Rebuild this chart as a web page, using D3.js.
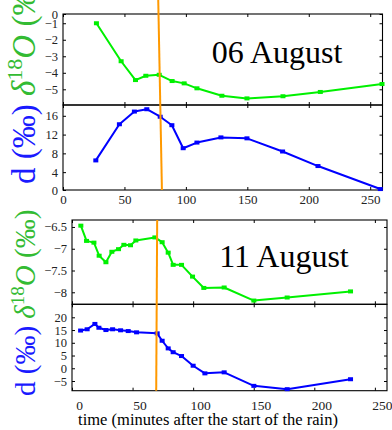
<!DOCTYPE html>
<html>
<head>
<meta charset="utf-8">
<script src="https://cdn.jsdelivr.net/npm/d3@7"></script>
<style>
  body { margin: 0; background: #fff; }
  svg { display: block; }
  .axis path { display: none; }
  .axis line { stroke: #000; stroke-width: 1; }
  .axis text { font-family: "Liberation Serif", "DejaVu Serif", serif; fill: #222; }
</style>
</head>
<body>
<div id="chart"></div>
<script>
// 06 August
const aug06IsoT = [27.2, 47.3, 59, 67.4, 78.3, 88.8, 98.6, 109, 129.3, 149.7, 179, 209.4, 259.6];
const aug06Iso = [-1.0, -3.3, -4.44, -4.18, -4.12, -4.5, -4.64, -4.94, -5.39, -5.55, -5.42, -5.16, -4.68];
const aug06DT = [26.7, 45.9, 58.1, 68.2, 79.1, 88.6, 97.8, 109, 128.5, 149.7, 178.7, 207.5, 258.2];
const aug06D = [6.5, 14.2, 16.9, 17.4, 15.8, 14.0, 9.1, 10.3, 11.4, 11.2, 8.4, 5.3, 0.4];
const aug06Rain = [77.5, 80.5]; // end of rain line, top -> bottom

// 11 August
const aug11IsoT = [7.3, 12, 18.1, 22.4, 28, 32.9, 38.4, 42.8, 48.3, 52.7, 68.4, 74.4, 79.4, 83.5, 90.4, 99.5, 108.8, 125.6, 150.1, 177.6, 229.9];
const aug11Iso = [-6.47, -6.82, -6.86, -7.16, -7.31, -7.07, -7.01, -6.91, -6.92, -6.81, -6.74, -6.85, -7.09, -7.37, -7.37, -7.64, -7.9, -7.89, -8.19, -8.12, -7.98];
const aug11DT = [7.1, 12.5, 18.9, 22.2, 28, 33.5, 40.1, 46.4, 53.3, 70.3, 74.4, 79.4, 83.5, 90.4, 100, 109.7, 125.6, 150.1, 177.6, 229.9];
const aug11D = [14.8, 15.3, 17.4, 15.9, 15.0, 15.3, 14.9, 14.6, 14.1, 13.7, 10.8, 7.8, 6.3, 4.8, 1.0, -2.0, -1.6, -6.9, -8.2, -4.3];
const aug11Rain = [70.3, 69.5];

const timeTicks = [0, 50, 100, 150, 200, 250];
const aug06IsoTicks = [0, -1, -2, -3, -4, -5];
const aug06DTicks = [0, 4, 8, 12, 16];
const aug11IsoTicks = [-6.5, -7, -7.5, -8];
const aug11DTicks = [20, 15, 10, 5, 0, -5];

const W = 392, H = 430;
const green = "#00f000", blue = "#0000ff", orange = "#ff9900";
const greenText = "#33bb33", blueText = "#1a1aff";
const minus = d => String(d).replace("-", "\u2212");

const svg = d3.select("#chart").append("svg").attr("width", W).attr("height", H);

const figs = [
  {
    title: "06 August", titleX: 277, titleY: 63,
    x: d3.scaleLinear().domain([0, 260]).range([63, 382.5]),
    top: { y: d3.scaleLinear().domain([-5.95, -0.44]).range([105, 14]), t: aug06IsoT, v: aug06Iso, ticks: aug06IsoTicks },
    bot: { y: d3.scaleLinear().domain([0.2, 18.3]).range([190, 105]), t: aug06DT, v: aug06D, ticks: aug06DTicks },
    rain: aug06Rain, rainTop: 0,
    xFont: 13, xPad: 5, xDx: 0, labelY: 184, labelFont: 33
  },
  {
    title: "11 August", titleX: 284, titleY: 267,
    x: d3.scaleLinear().domain([0, 260]).range([72, 387]),
    top: { y: d3.scaleLinear().domain([-8.276, -6.34]).range([304.3, 220]), t: aug11IsoT, v: aug11Iso, ticks: aug11IsoTicks },
    bot: { y: d3.scaleLinear().domain([-8.8, 25.1]).range([390.7, 304.3]), t: aug11DT, v: aug11D, ticks: aug11DTicks },
    rain: aug11Rain, rainTop: 220,
    xFont: 13.5, xPad: 10, xDx: 7, labelY: 396, labelFont: 29
  }
];

figs.forEach(f => {
  const g = svg.append("g");
  const [x0, x1] = f.x.range();

  [["top", green], ["bot", blue]].forEach(([key, col]) => {
    const p = f[key];
    p.y.clamp(true);
    const [yb, yt] = p.y.range();

    // frame
    g.append("rect").attr("x", x0).attr("y", yt).attr("width", x1 - x0).attr("height", yb - yt)
      .attr("fill", "none").attr("stroke", "#000").attr("stroke-width", 1.1);

    // left axis with labels
    g.append("g").attr("class", "axis").attr("transform", `translate(${x0},0)`)
      .call(d3.axisLeft(p.y).tickValues(p.ticks).tickSizeInner(-3).tickSizeOuter(0).tickPadding(5).tickFormat(minus))
      .selectAll("text").style("font-size", "12.5px");
    // right axis ticks
    g.append("g").attr("class", "axis").attr("transform", `translate(${x1},0)`)
      .call(d3.axisRight(p.y).tickValues(p.ticks).tickSizeInner(-3).tickSizeOuter(0).tickFormat(""));
    // top / bottom ticks
    g.append("g").attr("class", "axis").attr("transform", `translate(0,${yt})`)
      .call(d3.axisTop(f.x).tickValues(timeTicks).tickSizeInner(-3).tickSizeOuter(0).tickFormat(""));
    const bAxis = g.append("g").attr("class", "axis").attr("transform", `translate(0,${yb})`)
      .call(d3.axisBottom(f.x).tickValues(timeTicks).tickSizeInner(-3).tickSizeOuter(0)
        .tickPadding(key === "bot" ? f.xPad : 0).tickFormat(key === "bot" ? d => d : ""));
    bAxis.selectAll("text").style("font-size", f.xFont + "px").attr("dx", f.xDx);

    // series
    const pts = p.t.map((t, i) => [f.x(t), p.y(p.v[i])]);
    g.append("path").attr("d", d3.line()(pts)).attr("fill", "none")
      .attr("stroke", col).attr("stroke-width", 2).attr("stroke-linejoin", "round");
    g.selectAll(null).data(pts).join("rect")
      .attr("x", d => d[0] - 2.5).attr("y", d => d[1] - 2)
      .attr("width", 5).attr("height", 4).attr("fill", col);
  });

  // end of rain
  g.append("line")
    .attr("x1", f.x(f.rain[0])).attr("y1", f.rainTop)
    .attr("x2", f.x(f.rain[1])).attr("y2", f.bot.y.range()[0])
    .attr("stroke", orange).attr("stroke-width", 2);

  // title
  g.append("text").attr("x", f.titleX).attr("y", f.titleY).attr("text-anchor", "middle")
    .style("font-family", "Liberation Serif, serif").style("font-size", "32px").text(f.title);

  // y label
  const fs = f.labelFont;
  const lab = g.append("text").attr("transform", `translate(35,${f.labelY}) rotate(-90)`)
    .style("font-family", "Liberation Serif, serif").style("font-size", fs + "px");
  lab.append("tspan").attr("fill", blueText).text("d (\u2030)");
  lab.append("tspan").attr("fill", greenText).text(" ");
  lab.append("tspan").attr("fill", greenText).style("font-style", "italic").text("\u03b4");
  lab.append("tspan").attr("fill", greenText).style("font-size", Math.round(fs * 0.66) + "px")
    .attr("dy", -fs * 0.38).text("18");
  lab.append("tspan").attr("fill", greenText).style("font-style", "italic").attr("dy", fs * 0.38).text("O");
  lab.append("tspan").attr("fill", greenText).text(" (\u2030)");
});

svg.append("text").attr("x", 208).attr("y", 425).attr("text-anchor", "middle")
  .style("font-family", "Liberation Serif, serif").style("font-size", "16.5px")
  .text("time (minutes after the start of the rain)");
</script>
</body>
</html>
